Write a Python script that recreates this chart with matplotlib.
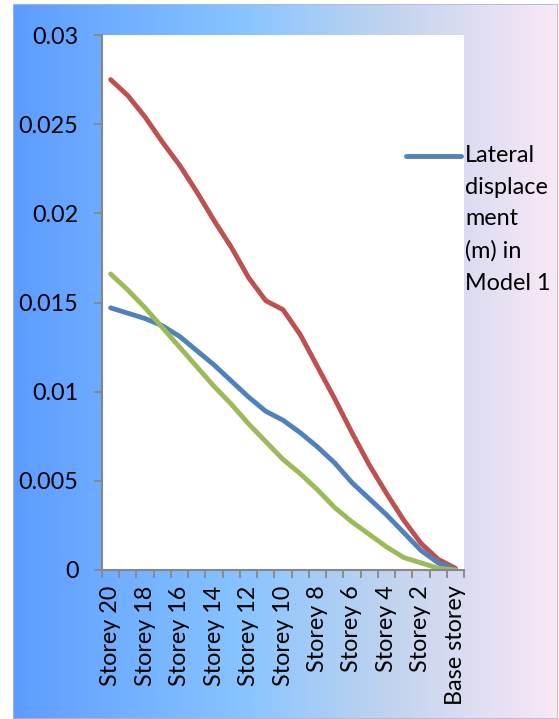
import numpy as np
import matplotlib.pyplot as plt
from matplotlib.colors import LinearSegmentedColormap
from matplotlib.lines import Line2D
from matplotlib.patches import Rectangle

# === Storey categories (top of building first) ===
storeys = ['Storey %d' % n for n in range(20, 0, -1)] + ['Base storey']

# === Lateral displacement (m) per storey ===
model_1 = [0.0147, 0.0144, 0.0141, 0.0137, 0.0131, 0.0123, 0.0115, 0.0106, 0.0097,
           0.0089, 0.0084, 0.0077, 0.0069, 0.0060, 0.0049, 0.0040, 0.0031, 0.0021,
           0.0011, 0.0004, 0.0]
model_2 = [0.0275, 0.0266, 0.0254, 0.0240, 0.0227, 0.0212, 0.0196, 0.0181, 0.0164,
           0.0151, 0.0146, 0.0132, 0.0114, 0.0096, 0.0077, 0.0059, 0.0043, 0.0028,
           0.0015, 0.0006, 0.0001]
model_3 = [0.0166, 0.0157, 0.0147, 0.0136, 0.0125, 0.0114, 0.0103, 0.0093, 0.0082,
           0.0072, 0.0062, 0.0054, 0.0045, 0.0035, 0.0027, 0.0020, 0.0013, 0.0007,
           0.0004, 0.0001, 0.0]

legend_label = 'Lateral\ndisplace\nment\n(m) in\nModel 1'
yticks = [0, 0.005, 0.01, 0.015, 0.02, 0.025, 0.03]

plt.rcParams['font.family'] = ['Lato', 'DejaVu Sans']
FS = 16.8

W, H = 559, 719
fig = plt.figure(figsize=(W / 100, H / 100), dpi=100)
fig.patch.set_facecolor('white')

# --- gradient panel behind the chart ---
bg = fig.add_axes([12.5 / W, 0, (557.5 - 12.5) / W, (H - 4) / H])
grad = LinearSegmentedColormap.from_list('bg', [
    (0.0, '#5C9CFF'), (0.42, '#88C4FF'), (0.70, '#C2D4EE'),
    (0.86, '#E0DEF2'), (1.0, '#FAE8F6')])
bg.imshow(np.linspace(0, 1, 256)[None, :], cmap=grad, aspect='auto',
          extent=[0, 1, 0, 1])
bg.add_patch(Rectangle((0, 0), 1, 1, fill=False, edgecolor='#A9B8D8',
                       linewidth=1.2, transform=bg.transAxes))
bg.set_axis_off()

# --- plot area ---
ax = fig.add_axes([102 / W, (H - 570) / H, (464 - 102) / W, (570 - 35) / H])
ax.set_facecolor('white')

x = np.arange(len(storeys))
style = dict(lw=3.5, solid_capstyle='round', solid_joinstyle='round')
ax.plot(x, model_2, color='#C0504D', **style)
ax.plot(x, model_1, color='#4F81BD', **style)
ax.plot(x, model_3, color='#9BBB59', **style)

ax.set_xlim(-0.5, len(storeys) - 0.5)
ax.set_ylim(0, 0.03)

ax.set_yticks(yticks)
ax.set_yticklabels(['0' if v == 0 else ('%g' % v) for v in yticks], fontsize=FS)
ax.tick_params(axis='y', direction='out', length=6, width=1.3, color='#878787', pad=11)

# ticks between categories, labels on every other storey
ax.set_xticks(np.arange(-0.5, len(storeys), 1.0))
ax.set_xticklabels([])
ax.set_xticks(x[::2], minor=True)
ax.set_xticklabels(storeys[::2], minor=True, rotation=90, fontsize=FS)
ax.tick_params(axis='x', which='major', direction='out', length=6, width=1.3, color='#878787')
ax.tick_params(axis='x', which='minor', length=0, pad=11)

for side in ['top', 'right']:
    ax.spines[side].set_visible(False)
for side in ['left', 'bottom']:
    ax.spines[side].set_color('#878787')
    ax.spines[side].set_linewidth(1.5)

# --- legend (first series only) ---
fig.add_artist(Line2D([406 / W, 461 / W], [(H - 156) / H] * 2, color='#4F81BD',
                      lw=3.5, solid_capstyle='round'))
fig.text(465 / W, (H - 145) / H, legend_label, fontsize=FS, va='top', ha='left',
         linespacing=1.63)

fig.savefig('out.png', dpi=100)
